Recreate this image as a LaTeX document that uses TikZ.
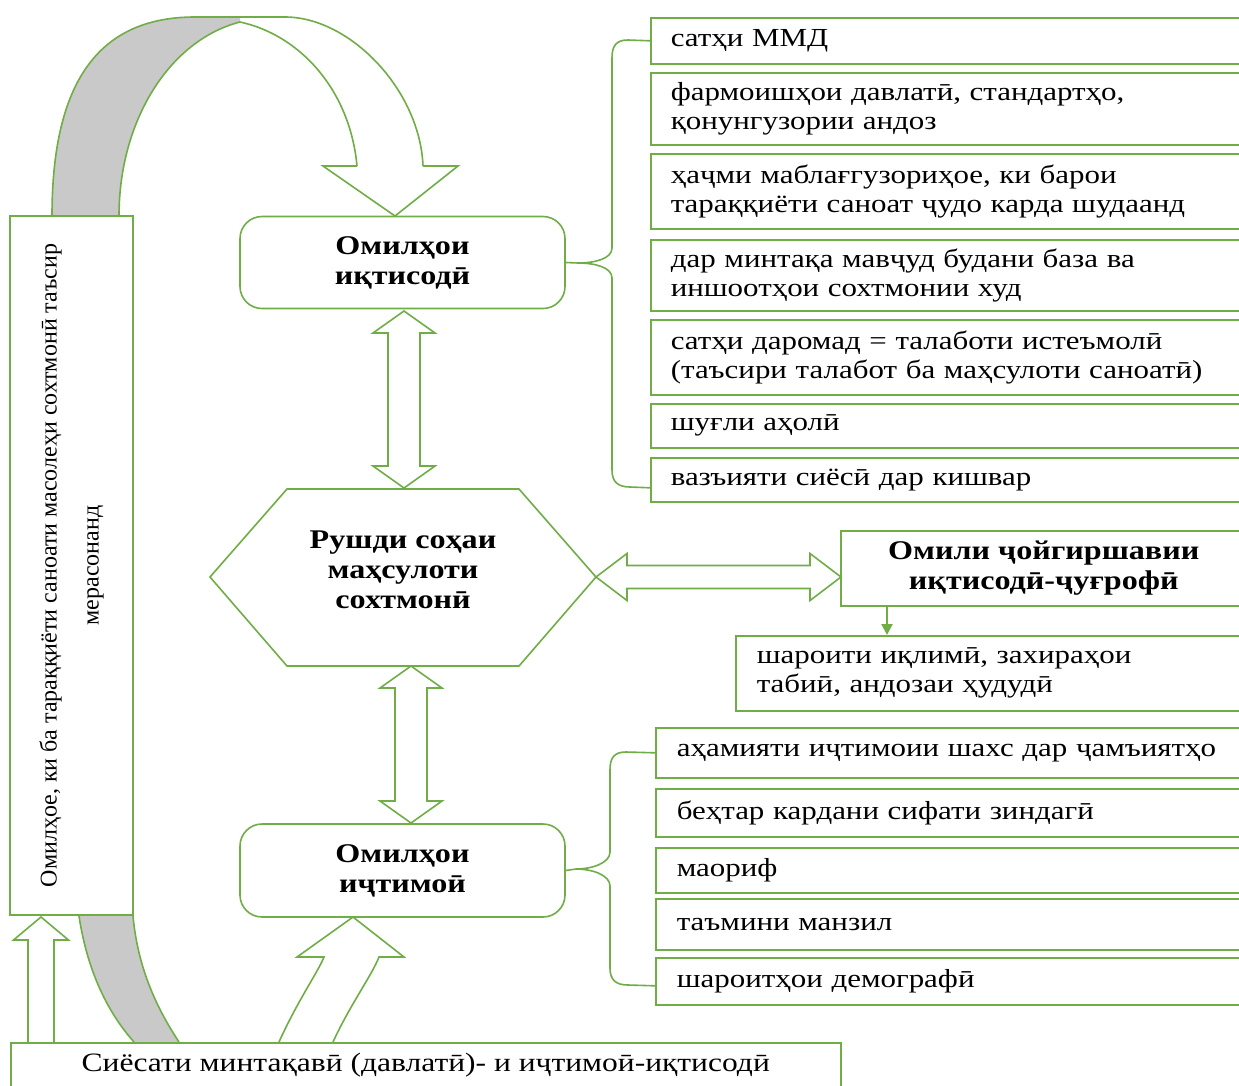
\documentclass[tikz,border=0pt]{standalone}
\usepackage{fontspec}
\setmainfont{Liberation Serif}[FakeStretch=1.19]
\newfontfamily\rotfont{Liberation Serif}
\usetikzlibrary{calc,arrows.meta}
\definecolor{grn}{HTML}{70AD47}
\definecolor{backgrey}{HTML}{C9C9C9}
\newcommand\vdarr[3]{%
  \draw[ln,fill=white] (#1,#2) -- (#1+31,#2+22) -- (#1+16,#2+22) -- (#1+16,#3-22) -- (#1+31,#3-22) -- (#1,#3)
   -- (#1-31,#3-22) -- (#1-16,#3-22) -- (#1-16,#2+22) -- (#1-31,#2+22) -- cycle;}
\begin{document}
\begin{tikzpicture}[x=1pt,y=-1pt,
  ln/.style={draw=grn,line width=1.6pt},
  txt/.style={font=\fontsize{26pt}{29pt}\selectfont},
  bld/.style={font=\fontsize{27pt}{30pt}\selectfont\bfseries},
  listbox/.style={ln,fill=white,txt,align=left,anchor=north west,inner xsep=20pt,inner ysep=0pt,text width=#1},
  listbox/.default=556pt,
  headbox/.style={ln,fill=white,bld,align=center,rounded corners=22pt,minimum width=325pt,inner sep=0pt}]
\useasboundingbox (0,0) rectangle (1239,1085);
\fill[white] (0,0) rectangle (1239,1085);

% top curved arrow (back side shaded)
\fill[backgrey] (52,216) .. controls (52,80) and (100,17) .. (195,17) -- (240,17) -- (240,22)
   .. controls (170,40) and (119,120) .. (119,216) -- cycle;
\draw[ln] (52,216) .. controls (52,80) and (100,17) .. (195,17) -- (285,17) .. controls (350,17) and (420,90) .. (423,166);
\draw[ln] (119,216) .. controls (119,120) and (170,40) .. (240,22) .. controls (300,35) and (350,90) .. (357,166);
\draw[ln,fill=white] (357,166) -- (323,166) -- (395,216) -- (458,166) -- (423,166);

% bottom curved arrow
\fill[backgrey] (79,916) .. controls (88,975) and (110,1015) .. (134,1042) -- (179,1042)
   .. controls (158,1010) and (138,970) .. (133,916) -- cycle;
\draw[ln] (79,916) .. controls (88,975) and (110,1015) .. (134,1042);
\draw[ln] (179,1042) .. controls (158,1010) and (138,970) .. (133,916);
\draw[ln,fill=white] (279,1042) .. controls (298,1000) and (318,972) .. (324,957) -- (297,957) -- (353,917)
   -- (404,957) -- (379,957) .. controls (372,975) and (350,1005) .. (333,1042);

% small up arrow
\draw[ln,fill=white] (28,1042) -- (28,940) -- (13.5,940) -- (41,917) -- (68.5,940) -- (54,940) -- (54,1042);

% left box
\node[ln,fill=white,rotate=90,minimum width=699pt,minimum height=123pt,inner sep=0pt,align=center,
  font=\rotfont\fontsize{24pt}{28pt}\selectfont] (lbox) at (71.5,565.5)
  {Омилҳое, ки ба тараққиёти саноати масолеҳи сохтмонӣ таъсир\\[14pt]мерасонанд};

% bottom policy box
\node[ln,fill=white,minimum width=830pt,minimum height=45pt,anchor=north west,inner sep=0pt,
  font=\fontsize{26.5pt}{29pt}\selectfont] (pol) at (10,1042)
  {Сиёсати минтақавӣ (давлатӣ)- и иҷтимоӣ-иқтисодӣ};

% head boxes
\node[headbox,minimum height=92pt] (eco) at (402.5,262.5) {Омилҳои\\иқтисодӣ};
\node[headbox,minimum height=93pt] (soc) at (402.5,870.5) {Омилҳои\\иҷтимоӣ};

% hexagon
\draw[ln,fill=white] (210,577) -- (287,489) -- (519,489) -- (596,577) -- (519,666) -- (287,666) -- cycle;
\node[bld,align=center] (hex) at (403,570) {Рушди соҳаи\\маҳсулоти\\сохтмонӣ};

% economic list
\node[listbox,minimum height=46pt] (e1) at (650,17) {сатҳи ММД};
\node[listbox,minimum height=72pt] (e2) at (650,72) {фармоишҳои давлатӣ, стандартҳо,\\қонунгузории андоз};
\node[listbox,minimum height=75pt] (e3) at (650,153) {ҳаҷми маблағгузориҳое, ки барои\\тараққиёти саноат ҷудо карда шудаанд};
\node[listbox,minimum height=71pt] (e4) at (650,239) {дар минтақа мавҷуд будани база ва\\иншоотҳои сохтмонии худ};
\node[listbox,minimum height=75pt] (e5) at (650,319) {сатҳи даромад = талаботи истеъмолӣ\\(таъсири талабот ба маҳсулоти саноатӣ)};
\node[listbox,minimum height=44pt] (e6) at (650,403) {шуғли аҳолӣ};
\node[listbox,minimum height=44pt] (e7) at (650,457) {вазъияти сиёсӣ дар кишвар};

% geographic
\node[ln,fill=white,bld,align=center,anchor=north west,minimum width=406pt,minimum height=75pt,inner sep=0pt] (geo) at (840,530)
  {Омили ҷойгиршавии\\иқтисодӣ-ҷуғрофӣ};
\node[listbox=469pt,inner xsep=21pt,minimum height=75pt] (clim) at (735,635) {шароити иқлимӣ, захираҳои\\табиӣ, андозаи ҳудудӣ};

% social list
\node[listbox=549pt,inner xsep=21pt,minimum height=50pt] (s1) at (655,727) {аҳамияти иҷтимоии шахс дар ҷамъиятҳо};
\node[listbox=549pt,inner xsep=21pt,minimum height=48pt] (s2) at (655,788) {беҳтар кардани сифати зиндагӣ};
\node[listbox=549pt,inner xsep=21pt,minimum height=45pt] (s3) at (655,847) {маориф};
\node[listbox=549pt,inner xsep=21pt,minimum height=51pt] (s4) at (655,898) {таъмини манзил};
\node[listbox=549pt,inner xsep=21pt,minimum height=47pt] (s5) at (655,957) {шароитҳои демографӣ};

% block double arrows
\vdarr{404}{311}{488}
\vdarr{411}{666}{823}
\draw[ln,fill=white] (596,577) -- (627,553.5) -- (627,565.5) -- (810,565.5) -- (810,553.5) -- (841,577)
  -- (810,600.5) -- (810,588.5) -- (627,588.5) -- (627,600.5) -- cycle;

% small arrow geo -> clim
\draw[grn,line width=2.2pt,-{Triangle[length=11pt,width=11pt]}] ($(geo.south west)+(47,0)$) -- ($(clim.north west)+(152,0)$);

% braces
\draw[ln] (e1.west) -- (628,40) .. controls (616,40) and (612,46) .. (612,58) -- (612,248)
  .. controls (612,259) and (594,263) .. (578,263) -- (eco.east);
\draw[ln] (578,263) .. controls (594,263) and (612,267) .. (612,278) -- (612,470)
  .. controls (612,482) and (618,487) .. (630,487) -- ($(e7.west)+(0,8)$);
\draw[ln] (s1.west) -- (626,752) .. controls (614,752) and (610,758) .. (610,770) -- (610,852)
  .. controls (610,863) and (592,869) .. (576,869) -- (soc.east);
\draw[ln] (576,869) .. controls (592,869) and (610,875) .. (610,886) -- (610,968)
  .. controls (610,980) and (616,985) .. (628,985) -- ($(s5.west)+(0,4.5)$);
\end{tikzpicture}
\end{document}
